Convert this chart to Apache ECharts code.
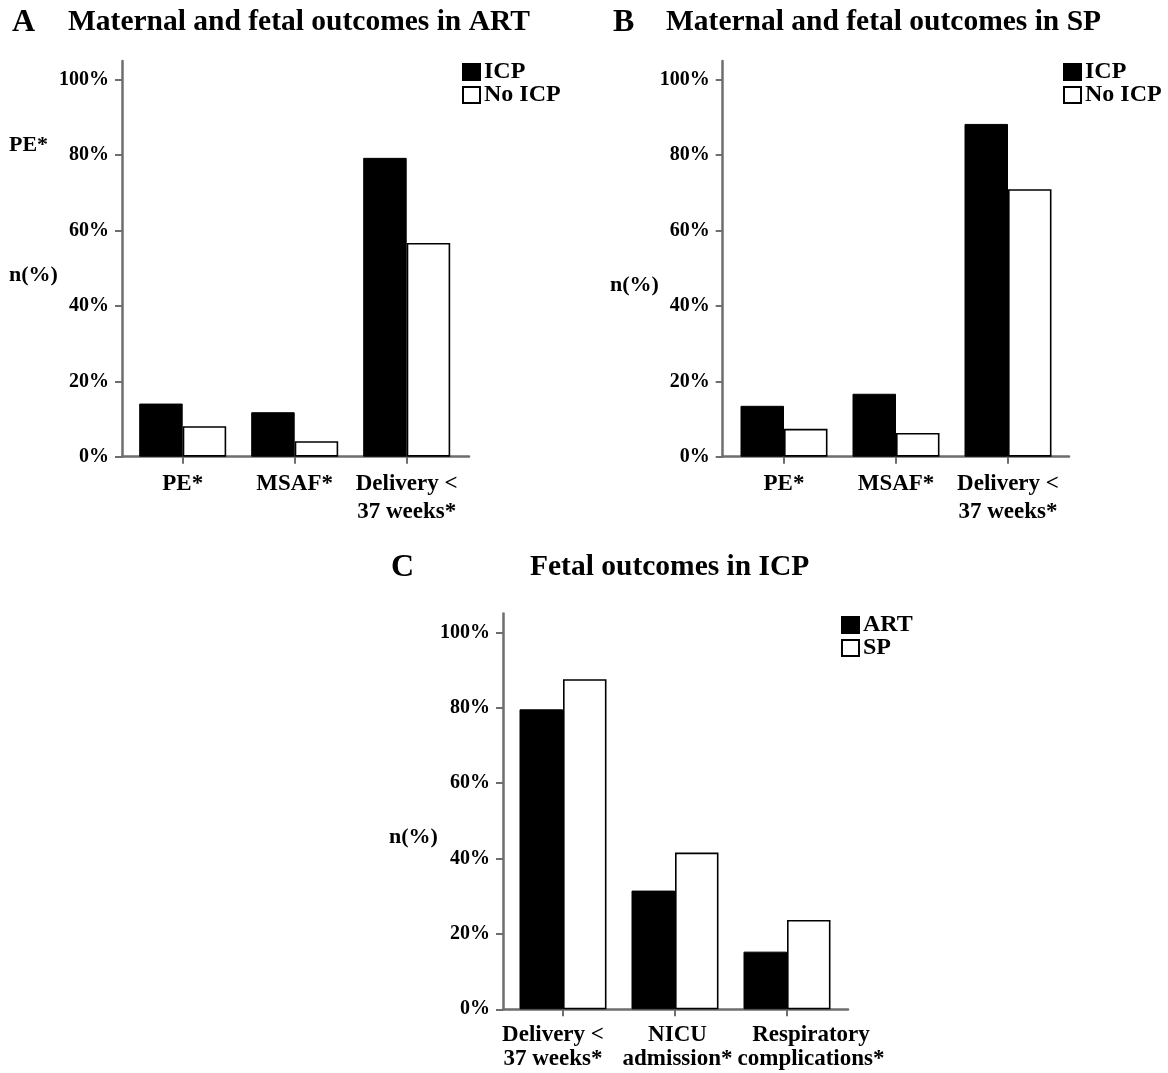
<!DOCTYPE html>
<html>
<head>
<meta charset="utf-8">
<script src="https://cdn.jsdelivr.net/npm/echarts@6/dist/echarts.min.js"></script>
<style>
html,body{margin:0;padding:0;background:#fff;}
#chart{width:1168px;height:1073px;}
</style>
</head>
<body>
<div id="chart"></div>
<script>
// ---- data ----
const categoriesAB = ['PE*', 'MSAF*', 'Delivery <\n37 weeks*'];
const artICP = [14.1, 11.8, 79.3];
const artNoICP = [8.1, 4.1, 56.7];
const spICP = [13.5, 16.7, 88.3];
const spNoICP = [7.4, 6.3, 71.0];
const categoriesC = ['Delivery <\n37 weeks*', 'NICU\nadmission*', 'Respiratory\ncomplications*'];
const icpART = [79.6, 31.5, 15.3];
const icpSP = [87.6, 41.6, 23.7];
const yTicks = [0, 20, 40, 60, 80, 100];
const legendAB = ['ICP', 'No ICP'];
const legendC = ['ART', 'SP'];

// label paddings (style only) for panel C category labels, as in the original figure
const labelPadC = [[0, 20, 0, 0], [0, 0, 0, 5], [0, 0, 0, 48]];

const FF = '"Liberation Serif", "Times New Roman", serif';
const AX = '#6e6e6e';
const H = 395.7;

function mkGrid(left, top, width) { return { left, top, width, height: H, outerBoundsMode: 'none', containLabel: false }; }

const grids = [
  mkGrid(122, 61, 347), mkGrid(126.7, 61, 336),
  mkGrid(722.7, 61, 346.3), mkGrid(728, 61, 336),
  mkGrid(503, 613.6, 345), mkGrid(507, 613.6, 336)
];

function lineX(gi) {
  return { gridIndex: gi, type: 'value', min: 0, max: 1,
    axisLine: { show: true, onZero: false, lineStyle: { color: AX, width: 2.5 } },
    axisTick: { show: false }, axisLabel: { show: false }, splitLine: { show: false } };
}
function catX(gi, cats, margin, lh) {
  return { gridIndex: gi, type: 'category', data: cats,
    axisLine: { show: false },
    axisTick: { show: true, alignWithLabel: true, length: 7, lineStyle: { color: AX, width: 2 } },
    axisLabel: { interval: 0, margin, color: '#000', fontFamily: FF, fontWeight: 'bold', fontSize: 23, lineHeight: lh },
    splitLine: { show: false } };
}
function visY(gi) {
  return { gridIndex: gi, type: 'value', min: 0, max: 105,
    axisLine: { show: true, lineStyle: { color: AX, width: 2.5 } },
    axisTick: { show: true, length: 7, customValues: yTicks, lineStyle: { color: AX, width: 2 } },
    axisLabel: { customValues: yTicks, formatter: '{value}%', margin: 13, color: '#000', fontFamily: FF, fontWeight: 'bold', fontSize: 20 },
    splitLine: { show: false } };
}
function hidY(gi) {
  return { gridIndex: gi, type: 'value', min: 0, max: 105, show: false, splitLine: { show: false } };
}

const blackStyle = { color: '#000', borderColor: '#000', borderWidth: 1 };
const whiteStyle = { color: '#fff', borderColor: '#000', borderWidth: 1.6 };

function bar(name, data, xi, style) {
  return { type: 'bar', name, data, xAxisIndex: xi, yAxisIndex: xi,
    barWidth: 43.5, barGap: '0%', itemStyle: style, emphasis: { disabled: true } };
}

function txt(text, x, y, size, align) {
  return { type: 'text', x, y, silent: true,
    style: { text, fill: '#000', font: 'bold ' + size + 'px ' + FF, align: align || 'left', verticalAlign: 'middle' } };
}

function legend(data, left, top) {
  return { data, orient: 'vertical', left, top, padding: 0, itemWidth: 17, itemHeight: 16, itemGap: -1,
    icon: 'rect', selectedMode: false,
    textStyle: { color: '#000', fontFamily: FF, fontWeight: 'bold', fontSize: 24, lineHeight: 22, padding: [0, 0, 0, -1] } };
}

const catItemsC = categoriesC.map((c, i) => ({ value: c, textStyle: { padding: labelPadC[i] } }));

const chart = echarts.init(document.getElementById('chart'), null, { renderer: 'canvas' });
chart.setOption({
  animation: false,
  backgroundColor: '#fff',
  grid: grids,
  xAxis: [lineX(0), catX(1, categoriesAB, 13, 28), lineX(2), catX(3, categoriesAB, 13, 28), lineX(4), catX(5, catItemsC, 14, 24)],
  yAxis: [visY(0), hidY(1), visY(2), hidY(3), visY(4), hidY(5)],
  legend: [legend(legendAB, 462, 60), legend(legendAB, 1063, 60), legend(legendC, 841, 613)],
  series: [
    bar('ICP', artICP, 1, blackStyle),
    bar('No ICP', artNoICP, 1, whiteStyle),
    bar('ICP', spICP, 3, blackStyle),
    bar('No ICP', spNoICP, 3, whiteStyle),
    bar('ART', icpART, 5, blackStyle),
    bar('SP', icpSP, 5, whiteStyle)
  ],
  graphic: [
    txt('A', 12, 23, 32),
    txt('Maternal and fetal outcomes in ART', 68, 22, 29.5),
    txt('B', 613, 23, 32),
    txt('Maternal and fetal outcomes in SP', 666, 22, 29.5),
    txt('C', 391, 568, 32),
    txt('Fetal outcomes in ICP', 530, 567, 29.5),
    txt('PE*', 9, 145, 22),
    txt('n(%)', 9, 275, 22),
    txt('n(%)', 610, 285, 22),
    txt('n(%)', 389, 837, 22)
  ]
});
</script>
</body>
</html>
